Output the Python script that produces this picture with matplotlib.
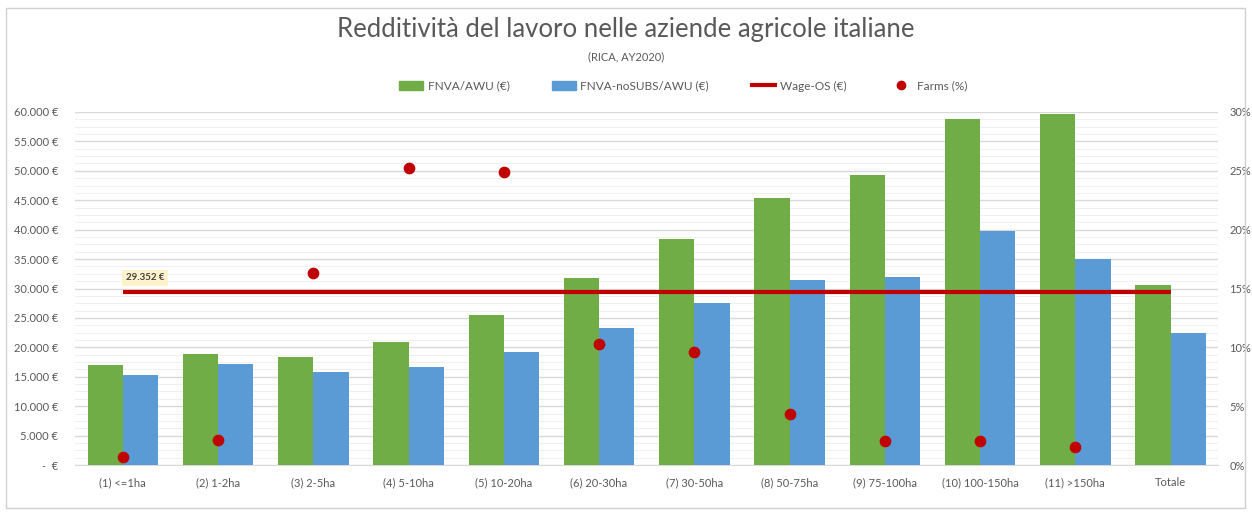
import matplotlib
matplotlib.use("Agg")
import matplotlib.pyplot as plt
from matplotlib.ticker import FuncFormatter, MultipleLocator
from matplotlib.patches import Rectangle
from matplotlib.lines import Line2D
import numpy as np

categories = ["(1) <=1ha", "(2) 1-2ha", "(3) 2-5ha", "(4) 5-10ha", "(5) 10-20ha",
              "(6) 20-30ha", "(7) 30-50ha", "(8) 50-75ha", "(9) 75-100ha",
              "(10) 100-150ha", "(11) >150ha", "Totale"]
fnva_awu = [17000, 18900, 18400, 20900, 25500, 31800, 38400, 45400, 49300, 58800, 59600, 30600]
fnva_nosubs_awu = [15300, 17200, 15800, 16700, 19200, 23300, 27500, 31400, 32000, 39800, 35000, 22400]
wage_os = 29352
farms_pct = [0.7, 2.1, 16.3, 25.2, 24.9, 10.3, 9.6, 4.3, 2.0, 2.0, 1.5]

plt.rcParams['font.family'] = ['Lato', 'DejaVu Sans']
TXT = '#595959'
GREEN = '#70AD47'
BLUE = '#5B9BD5'
RED = '#C00000'

fig = plt.figure(figsize=(12.52, 5.19), dpi=100)
fig.patches.append(Rectangle((6/1252, 1-508/519), 1239/1252, 500/519, transform=fig.transFigure,
                             fill=False, edgecolor='#d0d0d0', lw=1.0))

ax = fig.add_axes([0.060, 1-465/519, 0.913, (465-112)/519])
x = np.arange(len(categories))
w = 0.37
ax.bar(x - w/2, fnva_awu, width=w, color=GREEN, zorder=3, label='FNVA/AWU (€)')
ax.bar(x + w/2, fnva_nosubs_awu, width=w, color=BLUE, zorder=3, label='FNVA-noSUBS/AWU (€)')
ax.plot([x[0], x[-1]], [wage_os, wage_os], color=RED, lw=3, zorder=4, solid_capstyle='butt')
ax.text(x[0] + 0.03, wage_os + 1700, f"{wage_os:,.0f} €".replace(',', '.'), fontsize=7,
        color='#404040', fontweight='bold', va='bottom', ha='left', zorder=6,
        bbox=dict(boxstyle='square,pad=0.35', fc='#FFF2CC', ec='none'))

ax.set_xlim(-0.5, len(categories) - 0.5)
ax.set_ylim(0, 60000)
ax.yaxis.set_major_locator(MultipleLocator(5000))
ax.yaxis.set_minor_locator(MultipleLocator(1250))
ax.yaxis.set_major_formatter(FuncFormatter(lambda v, p: " -  €" if v == 0 else f"{v:,.0f} €".replace(',', '.')))
ax.grid(axis='y', which='major', color='#d9d9d9', lw=1.0, zorder=0)
ax.grid(axis='y', which='minor', color='#f0f0f0', lw=0.8, zorder=0)
ax.set_axisbelow(True)
for s in ['top', 'right', 'left']:
    ax.spines[s].set_visible(False)
ax.spines['bottom'].set_color('#d9d9d9')
ax.set_xticks(x)
ax.set_xticklabels(categories)
ax.tick_params(axis='x', length=0, labelsize=8, colors=TXT, pad=9)
ax.tick_params(axis='y', which='both', length=0, labelsize=8, colors=TXT, pad=12)

ax2 = ax.twinx()
ax2.scatter(x[:len(farms_pct)], farms_pct, s=55, color=RED, zorder=5)
ax2.set_ylim(0, 30)
ax2.yaxis.set_major_locator(MultipleLocator(5))
ax2.yaxis.set_major_formatter(FuncFormatter(lambda v, p: f"{v:.0f}%"))
ax2.tick_params(axis='y', length=0, labelsize=8, colors=TXT, pad=8)
for s in ax2.spines.values():
    s.set_visible(False)

fig.text(0.5, 1-30/519, "Redditività del lavoro nelle aziende agricole italiane", ha='center', va='center',
         fontsize=18.5, color=TXT)
fig.text(0.5, 1-57/519, "(RICA, AY2020)", ha='center', va='center', fontsize=8, color=TXT)

handles = [Rectangle((0, 0), 1, 1, color=GREEN), Rectangle((0, 0), 1, 1, color=BLUE),
           Line2D([], [], color=RED, lw=3), Line2D([], [], color=RED, marker='o', ls='none', markersize=6)]
labels = ['FNVA/AWU (€)', 'FNVA-noSUBS/AWU (€)', 'Wage-OS (€)', 'Farms (%)']
fig.legend(handles, labels, loc='center', bbox_to_anchor=(0.546, 1-86/519), ncol=4, frameon=False,
           fontsize=8.5, labelcolor=TXT, handlelength=2.0, handleheight=0.9, columnspacing=3.6,
           handletextpad=0.4)

fig.savefig('out.png', dpi=100)
